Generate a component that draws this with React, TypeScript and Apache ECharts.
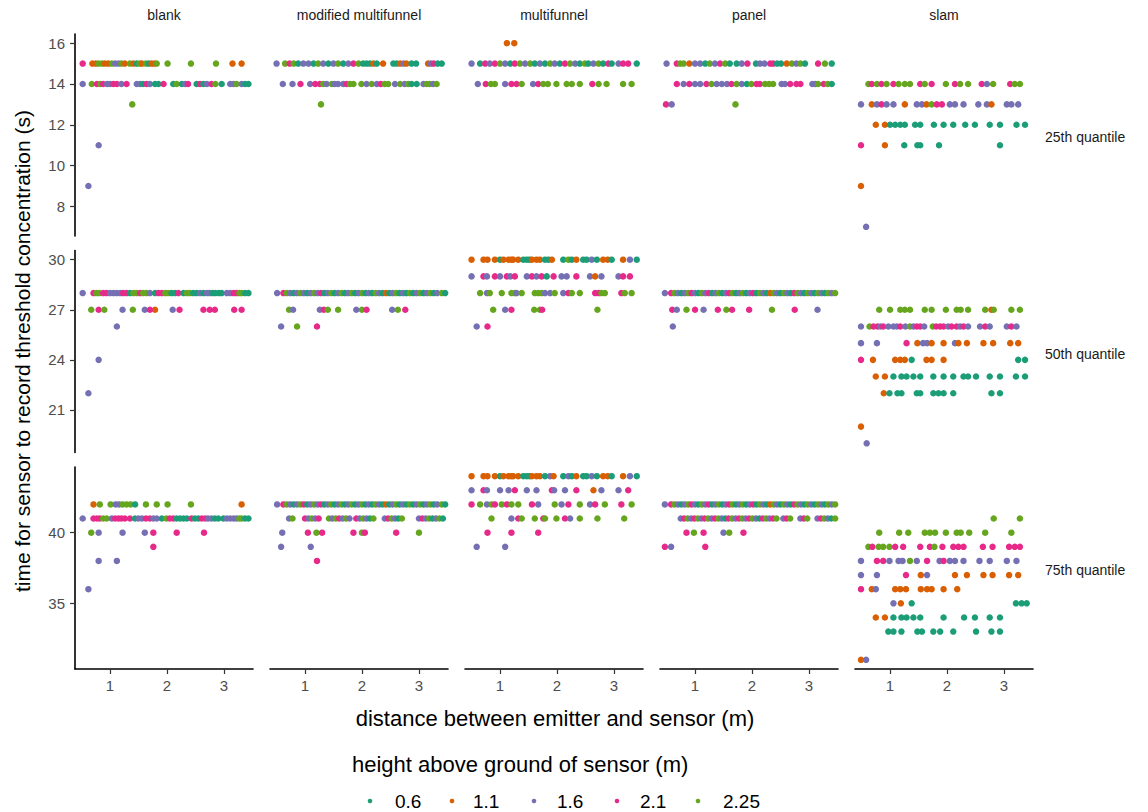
import React, { useEffect, useRef } from 'react';
import * as echarts from 'echarts';

const heights = ['0.6', '1.1', '1.6', '2.1', '2.25'];
const colors = ['#1B9E77', '#D95F02', '#7570B3', '#E7298A', '#66A61E'];
const emitters = ['blank', 'modified multifunnel', 'multifunnel', 'panel', 'slam'];
const quantiles = ['25th quantile', '50th quantile', '75th quantile'];
const xTicks = [1, 2, 3];
const yTicks = [[8, 10, 12, 14, 16], [21, 24, 27, 30], [35, 40]];
const yRanges = [[6.55, 16.45], [18.45, 30.55], [30.35, 44.65]];
const xRange = [0.385, 3.51];

// [distance (m), time (s), height index]
const blankQ25 = [
  [0.52,15,3],[0.69,15,1],[0.75,15,1],[0.80,15,4],[0.86,15,4],[0.91,15,1],[0.97,15,1],[1.03,15,4],[1.09,15,2],[1.15,15,2],[1.20,15,4],[1.26,15,1],[1.35,15,4],[1.41,15,1],[1.47,15,0],[1.52,15,4],[1.56,15,1],[1.63,15,4],[1.68,15,0],[1.73,15,1],[1.78,15,1],[1.82,15,4],[2.01,15,4],[2.42,15,4],[2.86,15,4],[3.15,15,1],[3.31,15,1],
  [0.52,14,2],[0.68,14,4],[0.77,14,3],[0.83,14,4],[0.88,14,3],[0.95,14,2],[1.00,14,2],[1.06,14,3],[1.12,14,3],[1.20,14,2],[1.29,14,3],[1.47,14,2],[1.53,14,2],[1.58,14,0],[1.64,14,3],[1.70,14,2],[1.79,14,0],[1.85,14,0],[1.94,14,3],[2.11,14,0],[2.17,14,4],[2.26,14,0],[2.32,14,2],[2.37,14,3],[2.52,14,0],[2.58,14,3],[2.64,14,0],[2.70,14,2],[2.78,14,3],[2.85,14,4],[2.96,14,0],[3.11,14,2],[3.17,14,2],[3.22,14,4],[3.31,14,2],[3.37,14,0],[3.43,14,0],
  [1.39,13,4],[0.80,11,2],[0.62,9,2]
];
const modQ25 = [
  [0.50,15,2],[0.65,15,4],[0.73,15,3],[0.80,15,4],[0.88,15,0],[0.97,15,2],[1.06,15,2],[1.15,15,0],[1.23,15,4],[1.32,15,2],[1.41,15,0],[1.50,15,2],[1.58,15,4],[1.67,15,0],[1.76,15,2],[1.85,15,3],[1.94,15,4],[2.02,15,0],[2.08,15,0],[2.14,15,0],[2.20,15,1],[2.26,15,0],[2.37,15,1],[2.55,15,0],[2.61,15,0],[2.67,15,1],[2.73,15,2],[2.78,15,1],[2.87,15,0],[2.95,15,0],[3.16,15,1],[3.21,15,2],[3.26,15,3],[3.33,15,0],[3.40,15,0],
  [0.61,14,2],[0.78,14,2],[0.92,14,3],[1.09,14,2],[1.18,14,3],[1.26,14,3],[1.32,14,4],[1.38,14,2],[1.47,14,4],[1.52,14,2],[1.58,14,2],[1.67,14,2],[1.73,14,3],[1.79,14,4],[1.85,14,4],[1.99,14,4],[2.08,14,2],[2.17,14,4],[2.26,14,2],[2.33,14,3],[2.40,14,4],[2.46,14,4],[2.58,14,2],[2.67,14,4],[2.75,14,2],[2.81,14,4],[2.87,14,0],[2.96,14,0],[3.08,14,2],[3.14,14,4],[3.19,14,4],[3.25,14,2],[3.31,14,4],
  [1.28,13,4]
];
const multiQ25 = [
  [1.12,16,1],[1.25,16,1],
  [0.50,15,2],[0.65,15,0],[0.74,15,3],[0.82,15,2],[0.91,15,3],[1.00,15,4],[1.09,15,2],[1.18,15,0],[1.26,15,3],[1.35,15,4],[1.44,15,2],[1.53,15,4],[1.61,15,0],[1.70,15,2],[1.79,15,0],[1.88,15,4],[1.96,15,2],[2.05,15,0],[2.14,15,3],[2.23,15,4],[2.32,15,2],[2.40,15,0],[2.49,15,4],[2.55,15,0],[2.64,15,2],[2.73,15,4],[2.81,15,0],[2.90,15,3],[2.96,15,0],[3.08,15,2],[3.16,15,3],[3.25,15,3],[3.40,15,0],
  [0.61,14,2],[0.75,14,3],[0.84,14,4],[0.91,14,4],[1.09,14,2],[1.20,14,3],[1.29,14,3],[1.38,14,4],[1.58,14,2],[1.67,14,3],[1.76,14,4],[1.84,14,4],[1.99,14,4],[2.17,14,4],[2.26,14,4],[2.40,14,4],[2.62,14,3],[2.73,14,4],[2.87,14,4],[3.16,14,4],[3.31,14,4]
];
const panelQ25 = [
  [0.50,15,2],[0.68,15,3],[0.74,15,4],[0.80,15,4],[0.90,15,1],[1.00,15,2],[1.09,15,2],[1.18,15,0],[1.26,15,4],[1.35,15,2],[1.44,15,3],[1.53,15,4],[1.61,15,0],[1.73,15,0],[1.82,15,2],[1.92,15,3],[2.07,15,0],[2.14,15,2],[2.22,15,2],[2.32,15,3],[2.37,15,3],[2.44,15,0],[2.51,15,0],[2.61,15,1],[2.70,15,4],[2.78,15,2],[2.85,15,4],[2.93,15,0],[3.16,15,3],[3.28,15,4],[3.40,15,0],
  [0.68,14,3],[0.80,14,2],[0.90,14,3],[1.00,14,2],[1.09,14,2],[1.20,14,3],[1.29,14,4],[1.38,14,2],[1.47,14,2],[1.56,14,2],[1.64,14,3],[1.73,14,4],[1.82,14,2],[1.91,14,0],[1.99,14,4],[2.08,14,3],[2.14,14,3],[2.23,14,4],[2.30,14,4],[2.37,14,4],[2.52,14,2],[2.58,14,2],[2.67,14,3],[2.78,14,3],[2.85,14,3],[3.06,14,2],[3.11,14,2],[3.16,14,4],[3.26,14,3],[3.33,14,4],[3.40,14,0],
  [0.49,13,3],[0.59,13,2],[1.71,13,4]
];
const slamQ25 = [
  [0.62,14,4],[0.68,14,3],[0.77,14,4],[0.85,14,3],[0.94,14,4],[1.06,14,3],[1.15,14,4],[1.26,14,4],[1.35,14,4],[1.53,14,3],[1.61,14,4],[1.73,14,3],[1.98,14,4],[2.14,14,3],[2.23,14,4],[2.37,14,4],[2.61,14,3],[2.70,14,2],[2.81,14,4],[3.11,14,3],[3.19,14,4],[3.28,14,4],
  [0.49,13,2],[0.68,13,1],[0.77,13,2],[0.85,13,3],[0.94,13,2],[1.06,13,2],[1.26,13,1],[1.47,13,2],[1.56,13,2],[1.64,13,1],[1.73,13,4],[1.82,13,3],[1.91,13,3],[2.05,13,2],[2.14,13,2],[2.29,13,2],[2.55,13,2],[2.70,13,2],[2.78,13,1],[3.05,13,2],[3.13,13,2],[3.25,13,2],
  [0.75,12,1],[0.91,12,1],[1.00,12,0],[1.09,12,0],[1.18,12,0],[1.26,12,0],[1.44,12,0],[1.53,12,0],[1.77,12,0],[1.94,12,0],[2.11,12,0],[2.32,12,0],[2.49,12,0],[2.75,12,0],[2.93,12,0],[3.22,12,0],[3.37,12,0],
  [0.49,11,3],[0.91,11,1],[1.25,11,0],[1.48,11,0],[1.53,11,0],[1.86,11,0],[2.93,11,0],
  [0.49,9,1],[0.58,7,2]
];

const blankQ50 = [
  [0.52,28,2],[0.71,28,3],[0.76,28,4],[0.81,28,4],[0.88,28,3],[0.94,28,3],[1.00,28,2],[1.06,28,2],[1.12,28,2],[1.18,28,2],[1.23,28,3],[1.29,28,3],[1.35,28,0],[1.41,28,4],[1.47,28,4],[1.53,28,3],[1.58,28,4],[1.64,28,4],[1.70,28,2],[1.79,28,0],[1.85,28,3],[1.91,28,3],[1.97,28,4],[2.02,28,4],[2.08,28,0],[2.14,28,0],[2.20,28,3],[2.29,28,0],[2.35,28,4],[2.40,28,4],[2.46,28,0],[2.52,28,0],[2.58,28,2],[2.64,28,0],[2.70,28,2],[2.75,28,2],[2.80,28,0],[2.85,28,0],[2.91,28,0],[2.96,28,0],[3.05,28,2],[3.11,28,2],[3.17,28,3],[3.22,28,3],[3.27,28,4],[3.31,28,4],[3.37,28,0],[3.43,28,0],
  [0.67,27,4],[0.80,27,3],[0.90,27,4],[1.22,27,2],[1.40,27,4],[1.61,27,2],[1.79,27,1],[1.70,27,3],[2.10,27,2],[2.22,27,3],[2.64,27,3],[2.75,27,3],[2.84,27,3],[3.18,27,3],[3.31,27,3],
  [1.12,26,2],[0.80,24,2],[0.62,22,2]
];
const modQ50 = [
  [0.51,28,2],[0.62,28,3],[0.68,28,4],[0.74,28,2],[0.80,28,0],[0.86,28,2],[0.92,28,4],[0.98,28,2],[1.04,28,0],[1.10,28,2],[1.16,28,4],[1.22,28,2],[1.28,28,3],[1.34,28,0],[1.40,28,2],[1.46,28,4],[1.52,28,0],[1.58,28,2],[1.64,28,4],[1.70,28,0],[1.76,28,2],[1.82,28,4],[1.88,28,0],[1.94,28,2],[2.00,28,4],[2.06,28,0],[2.12,28,2],[2.18,28,0],[2.24,28,4],[2.30,28,2],[2.36,28,0],[2.42,28,1],[2.48,28,0],[2.54,28,2],[2.60,28,4],[2.66,28,0],[2.72,28,2],[2.78,28,0],[2.84,28,4],[2.90,28,0],[2.96,28,2],[3.02,28,4],[3.08,28,0],[3.14,28,2],[3.20,28,4],[3.26,28,0],[3.32,28,2],[3.40,28,4],[3.46,28,0],
  [0.72,27,4],[0.79,27,2],[1.26,27,2],[1.33,27,3],[1.40,27,4],[1.58,27,4],[1.90,27,2],[2.00,27,4],[2.08,27,3],[2.53,27,2],[2.63,27,4],[2.76,27,3],
  [0.58,26,2],[0.86,26,4],[1.21,26,3]
];
const multiQ50 = [
  [0.50,30,1],[0.71,30,1],[0.78,30,1],[0.91,30,1],[1.00,30,0],[1.06,30,1],[1.15,30,1],[1.20,30,1],[1.23,30,1],[1.32,30,1],[1.41,30,0],[1.47,30,0],[1.52,30,0],[1.56,30,1],[1.64,30,1],[1.70,30,1],[1.79,30,0],[1.85,30,0],[1.91,30,1],[2.11,30,0],[2.20,30,4],[2.26,30,0],[2.34,30,1],[2.46,30,0],[2.52,30,0],[2.61,30,2],[2.70,30,0],[2.81,30,1],[2.89,30,1],[2.96,30,0],[3.16,30,1],[3.28,30,2],[3.40,30,0],
  [0.50,29,2],[0.71,29,3],[0.77,29,2],[0.91,29,3],[1.00,29,2],[1.12,29,3],[1.18,29,2],[1.26,29,3],[1.47,29,2],[1.56,29,3],[1.64,29,2],[1.73,29,3],[1.82,29,0],[1.94,29,3],[2.08,29,2],[2.17,29,2],[2.34,29,3],[2.58,29,2],[2.67,29,1],[2.78,29,2],[3.08,29,2],[3.16,29,3],[3.28,29,3],
  [0.65,28,4],[0.77,28,2],[0.82,28,4],[1.03,28,4],[1.20,28,4],[1.26,28,4],[1.29,28,2],[1.38,28,4],[1.61,28,4],[1.67,28,4],[1.73,28,4],[1.79,28,2],[1.88,28,2],[1.96,28,4],[2.11,28,2],[2.20,28,3],[2.26,28,4],[2.40,28,4],[2.67,28,3],[2.73,28,3],[2.78,28,4],[2.84,28,4],[3.13,28,3],[3.19,28,4],[3.31,28,4],
  [0.88,27,4],[1.09,27,2],[1.20,27,3],[1.60,27,4],[1.70,27,4],[1.74,27,3],[2.71,27,4],
  [0.59,26,2],[0.78,26,3]
];
const panelQ50 = [
  [0.47,28,2],[0.58,28,3],[0.64,28,4],[0.70,28,2],[0.76,28,0],[0.82,28,2],[0.88,28,4],[0.94,28,3],[1.00,28,2],[1.06,28,0],[1.12,28,4],[1.18,28,2],[1.24,28,3],[1.30,28,0],[1.36,28,2],[1.42,28,4],[1.48,28,0],[1.54,28,2],[1.60,28,3],[1.66,28,4],[1.72,28,0],[1.78,28,2],[1.84,28,4],[1.90,28,0],[1.96,28,2],[2.02,28,3],[2.08,28,0],[2.14,28,4],[2.20,28,2],[2.26,28,0],[2.32,28,1],[2.38,28,4],[2.44,28,2],[2.50,28,0],[2.56,28,4],[2.62,28,2],[2.68,28,0],[2.74,28,3],[2.80,28,4],[2.86,28,2],[2.92,28,0],[2.98,28,4],[3.04,28,2],[3.10,28,0],[3.16,28,4],[3.22,28,2],[3.28,28,0],[3.34,28,4],[3.40,28,2],[3.46,28,4],
  [0.60,27,3],[0.68,27,2],[0.85,27,4],[1.00,27,3],[1.15,27,2],[1.40,27,3],[1.55,27,4],[1.65,27,3],[1.95,27,3],[2.35,27,4],[2.75,27,3],[3.15,27,2],
  [0.61,26,2]
];
const slamQ50 = [
  [0.81,27,4],[1.00,27,4],[1.18,27,4],[1.26,27,4],[1.35,27,4],[1.61,27,4],[1.73,27,4],[1.98,27,4],[2.17,27,4],[2.24,27,4],[2.37,27,4],[2.67,27,4],[2.78,27,1],[2.82,27,4],[3.13,27,4],[3.28,27,4],
  [0.49,26,2],[0.64,26,4],[0.71,26,3],[0.78,26,3],[0.83,26,2],[0.88,26,3],[0.97,26,2],[1.06,26,2],[1.12,26,2],[1.18,26,3],[1.27,26,2],[1.35,26,4],[1.41,26,2],[1.47,26,3],[1.53,26,3],[1.60,26,2],[1.75,26,4],[1.81,26,3],[1.88,26,3],[1.94,26,3],[2.02,26,2],[2.08,26,3],[2.17,26,3],[2.23,26,2],[2.29,26,3],[2.37,26,2],[2.58,26,2],[2.67,26,3],[2.75,26,2],[3.05,26,2],[3.13,26,3],[3.22,26,2],
  [0.49,25,2],[0.77,25,2],[1.29,25,3],[1.48,25,1],[1.58,25,2],[1.65,25,2],[1.73,25,1],[1.94,25,1],[2.14,25,2],[2.20,25,1],[2.35,25,1],[2.64,25,1],[2.81,25,1],[3.11,25,1],[3.25,25,1],
  [0.49,24,3],[0.70,24,1],[1.09,24,1],[1.18,24,1],[1.26,24,1],[1.38,24,0],[1.64,24,1],[1.73,24,1],[1.94,24,1],[3.25,24,0],[3.37,24,0],
  [0.75,23,1],[0.91,23,1],[1.06,23,0],[1.20,23,0],[1.29,23,0],[1.41,23,0],[1.53,23,0],[1.76,23,0],[1.94,23,0],[2.11,23,0],[2.29,23,0],[2.37,23,0],[2.51,23,0],[2.75,23,0],[2.93,23,0],[3.21,23,0],[3.37,23,0],
  [0.89,22,1],[0.99,22,0],[1.13,22,0],[1.20,22,0],[1.47,22,0],[1.53,22,0],[1.76,22,0],[1.85,22,0],[1.94,22,0],[2.11,22,0],[2.78,22,0],[2.93,22,0],
  [0.49,20,1],[0.59,19,2]
];

const blankQ75 = [
  [0.71,42,1],[0.82,42,4],[1.01,42,4],[1.10,42,2],[1.16,42,2],[1.22,42,4],[1.29,42,4],[1.36,42,4],[1.44,42,0],[1.63,42,4],[1.82,42,4],[2.01,42,4],[2.42,42,4],[3.31,42,1],
  [0.52,41,2],[0.71,41,3],[0.77,41,3],[0.82,41,3],[0.88,41,4],[0.94,41,4],[1.03,41,2],[1.09,41,3],[1.15,41,3],[1.20,41,3],[1.26,41,3],[1.35,41,3],[1.44,41,0],[1.50,41,2],[1.56,41,2],[1.63,41,3],[1.70,41,3],[1.76,41,2],[1.82,41,2],[1.91,41,0],[1.99,41,4],[2.05,41,3],[2.11,41,3],[2.17,41,0],[2.23,41,0],[2.29,41,0],[2.35,41,0],[2.43,41,3],[2.49,41,0],[2.55,41,0],[2.61,41,3],[2.67,41,3],[2.72,41,2],[2.78,41,2],[2.84,41,0],[2.90,41,0],[2.99,41,0],[3.05,41,2],[3.11,41,2],[3.17,41,2],[3.22,41,2],[3.27,41,4],[3.31,41,4],[3.37,41,0],[3.43,41,0],
  [0.67,40,4],[0.80,40,2],[1.22,40,2],[1.61,40,2],[1.76,40,3],[2.17,40,3],[2.65,40,3],
  [1.76,39,3],[0.80,38,2],[1.12,38,2],[0.62,36,2]
];
const modQ75 = [
  [0.51,42,2],[0.62,42,3],[0.68,42,4],[0.74,42,2],[0.80,42,0],[0.86,42,2],[0.92,42,4],[0.98,42,3],[1.04,42,0],[1.10,42,2],[1.16,42,4],[1.22,42,2],[1.28,42,3],[1.34,42,0],[1.40,42,2],[1.46,42,4],[1.52,42,0],[1.58,42,2],[1.64,42,4],[1.70,42,0],[1.76,42,2],[1.82,42,4],[1.88,42,0],[1.94,42,2],[2.00,42,4],[2.06,42,0],[2.12,42,2],[2.18,42,0],[2.24,42,4],[2.30,42,2],[2.36,42,0],[2.42,42,1],[2.48,42,0],[2.54,42,2],[2.60,42,4],[2.66,42,0],[2.72,42,2],[2.78,42,0],[2.84,42,4],[2.90,42,0],[2.96,42,2],[3.02,42,4],[3.08,42,0],[3.14,42,2],[3.20,42,4],[3.26,42,0],[3.32,42,2],[3.40,42,4],[3.46,42,0],
  [0.72,41,2],[0.78,41,4],[1.00,41,3],[1.06,41,2],[1.12,41,4],[1.18,41,2],[1.24,41,3],[1.42,41,4],[1.48,41,2],[1.54,41,4],[1.60,41,3],[1.66,41,2],[1.72,41,4],[1.78,41,2],[1.90,41,3],[1.96,41,2],[2.02,41,4],[2.08,41,2],[2.14,41,0],[2.20,41,4],[2.40,41,2],[2.46,41,3],[2.52,41,4],[2.58,41,2],[2.64,41,0],[2.70,41,4],[3.00,41,2],[3.06,41,3],[3.12,41,2],[3.18,41,4],[3.24,41,0],[3.30,41,2],[3.36,41,4],[3.42,41,0],
  [0.60,40,2],[1.05,40,3],[1.20,40,4],[1.30,40,3],[1.85,40,3],[2.00,40,4],[2.05,40,3],[2.60,40,3],[3.00,40,4],
  [0.58,39,2],[1.10,39,2],[1.21,38,3]
];
const multiQ75 = [
  [0.50,44,1],[0.71,44,1],[0.78,44,1],[0.91,44,1],[1.00,44,0],[1.06,44,1],[1.15,44,1],[1.20,44,1],[1.23,44,1],[1.32,44,1],[1.41,44,0],[1.47,44,0],[1.52,44,0],[1.56,44,1],[1.64,44,1],[1.70,44,1],[1.79,44,0],[1.88,44,2],[1.94,44,1],[2.11,44,0],[2.20,44,2],[2.26,44,0],[2.34,44,1],[2.46,44,0],[2.52,44,0],[2.61,44,2],[2.70,44,0],[2.81,44,1],[2.89,44,1],[2.96,44,0],[3.16,44,1],[3.28,44,2],[3.40,44,0],
  [0.50,43,2],[0.71,43,3],[0.77,43,2],[1.00,43,2],[1.15,43,2],[1.26,43,3],[1.47,43,2],[1.64,43,2],[1.91,43,3],[1.95,43,2],[2.14,43,2],[2.34,43,3],[2.64,43,1],[2.78,43,2],[3.08,43,2],[3.25,43,3],
  [0.50,42,3],[0.65,42,4],[0.77,42,2],[0.85,42,4],[0.91,42,3],[1.03,42,4],[1.12,42,3],[1.20,42,4],[1.32,42,4],[1.56,42,3],[1.67,42,2],[1.96,42,4],[2.08,42,2],[2.20,42,3],[2.40,42,4],[2.58,42,2],[2.67,42,3],[2.84,42,4],[3.13,42,3],[3.31,42,4],
  [0.85,41,4],[1.20,41,2],[1.32,41,3],[1.38,41,4],[1.61,41,4],[1.76,41,3],[1.79,41,4],[1.99,41,4],[2.14,41,3],[2.23,41,2],[2.40,41,4],[2.71,41,4],[3.18,41,4],
  [0.78,40,3],[1.20,40,3],[1.67,40,3],
  [0.59,39,2],[1.09,39,2]
];
const panelQ75 = [
  [0.47,42,2],[0.58,42,3],[0.64,42,4],[0.70,42,2],[0.76,42,0],[0.82,42,2],[0.88,42,4],[0.94,42,3],[1.00,42,2],[1.06,42,0],[1.12,42,4],[1.18,42,2],[1.24,42,3],[1.30,42,0],[1.36,42,2],[1.42,42,4],[1.48,42,0],[1.54,42,2],[1.60,42,3],[1.66,42,4],[1.72,42,0],[1.78,42,2],[1.84,42,4],[1.90,42,0],[1.96,42,2],[2.02,42,3],[2.08,42,0],[2.14,42,4],[2.20,42,2],[2.26,42,0],[2.32,42,1],[2.38,42,4],[2.44,42,2],[2.50,42,0],[2.56,42,4],[2.62,42,2],[2.68,42,0],[2.74,42,3],[2.80,42,4],[2.86,42,2],[2.92,42,0],[2.98,42,4],[3.04,42,2],[3.10,42,0],[3.16,42,4],[3.22,42,2],[3.28,42,0],[3.34,42,4],[3.40,42,2],[3.46,42,4],
  [0.75,41,2],[0.81,41,3],[0.87,41,4],[0.93,41,2],[0.99,41,3],[1.05,41,4],[1.11,41,2],[1.17,41,3],[1.23,41,4],[1.29,41,2],[1.35,41,3],[1.41,41,4],[1.47,41,2],[1.53,41,0],[1.59,41,3],[1.65,41,4],[1.71,41,2],[1.77,41,3],[1.83,41,4],[1.89,41,2],[1.95,41,3],[2.01,41,4],[2.07,41,2],[2.13,41,0],[2.19,41,3],[2.25,41,4],[2.31,41,2],[2.37,41,3],[2.43,41,4],[2.55,41,2],[2.61,41,3],[2.67,41,4],[2.85,41,2],[2.91,41,3],[2.97,41,4],[3.15,41,2],[3.21,41,3],[3.27,41,4],[3.33,41,2],[3.39,41,0],[3.46,41,4],
  [0.85,40,3],[0.98,40,4],[1.15,40,3],[1.50,40,2],[1.60,40,4],[1.85,40,3],
  [0.47,39,3],[0.58,39,2],[1.18,39,3]
];
const slamQ75 = [
  [2.82,41,4],[3.28,41,4],
  [0.81,40,4],[1.16,40,4],[1.32,40,4],[1.61,40,4],[1.70,40,4],[1.79,40,4],[1.98,40,4],[2.17,40,4],[2.24,40,4],[2.39,40,4],[2.67,40,4],[3.13,40,4],
  [0.62,39,4],[0.69,39,3],[0.80,39,4],[0.88,39,4],[0.99,39,4],[1.09,39,3],[1.23,39,3],[1.53,39,3],[1.70,39,3],[1.78,39,4],[1.92,39,3],[2.11,39,3],[2.20,39,3],[2.29,39,3],[2.63,39,3],[2.80,39,3],[3.09,39,3],[3.19,39,3],[3.28,39,3],
  [0.49,38,2],[0.77,38,3],[0.88,38,3],[0.99,38,2],[1.15,38,2],[1.22,38,2],[1.35,38,4],[1.47,38,2],[1.65,38,3],[1.87,38,2],[1.94,38,3],[2.05,38,2],[2.14,38,2],[2.29,38,2],[2.57,38,2],[2.75,38,2],[3.05,38,2],[3.22,38,2],
  [0.49,37,2],[0.77,37,2],[1.28,37,3],[1.54,37,1],[1.65,37,2],[2.14,37,1],[2.35,37,1],[2.64,37,1],[2.80,37,1],[3.09,37,1],[3.25,37,1],
  [0.49,36,3],[0.68,36,1],[0.75,36,2],[1.09,36,1],[1.18,36,1],[1.28,36,1],[1.54,36,1],[1.65,36,1],[1.73,36,1],[1.94,36,1],[2.18,36,1],
  [1.06,35,2],[1.19,35,1],[1.38,35,0],[3.21,35,0],[3.31,35,0],[3.40,35,0],
  [0.75,34,1],[0.91,34,1],[1.06,34,0],[1.20,34,0],[1.29,34,0],[1.41,34,0],[1.53,34,0],[1.94,34,0],[2.30,34,0],[2.49,34,0],[2.75,34,0],[2.93,34,0],
  [0.97,33,0],[1.06,33,0],[1.20,33,0],[1.48,33,0],[1.56,33,0],[1.76,33,0],[1.88,33,0],[2.11,33,0],[2.51,33,0],[2.78,33,0],[2.93,33,0],
  [0.49,31,1],[0.58,31,2]
];

const facetData = [
  [blankQ25, modQ25, multiQ25, panelQ25, slamQ25],
  [blankQ50, modQ50, multiQ50, panelQ50, slamQ50],
  [blankQ75, modQ75, multiQ75, panelQ75, slamQ75],
];

const FONT = '"Liberation Sans", Arial, sans-serif';
const colLeft = [75, 270, 465, 660, 855];
const panelW = 178;
const rowTop = [34, 250.5, 467];
const panelH = 202;

export default function App() {
  const ref = useRef<HTMLDivElement>(null);
  useEffect(() => {
    if (!ref.current) return;
    const chart = echarts.init(ref.current, undefined, { renderer: 'svg' });
    const grids: any[] = [];
    const xAxes: any[] = [];
    const yAxes: any[] = [];
    const series: any[] = [];
    for (let r = 0; r < 3; r++) {
      for (let c = 0; c < 5; c++) {
        const i = r * 5 + c;
        grids.push({ left: colLeft[c], top: rowTop[r], width: panelW, height: panelH, containLabel: false });
        const showX = r === 2;
        const showY = c === 0;
        xAxes.push({
          type: 'value', gridIndex: i, min: xRange[0], max: xRange[1], show: showX,
          splitLine: { show: false },
          axisLine: { show: true, onZero: false, lineStyle: { color: '#000', width: 1.6 } },
          axisTick: { show: true, customValues: xTicks, length: 5, lineStyle: { color: '#333', width: 1.2 } },
          axisLabel: { show: true, customValues: xTicks, color: '#4d4d4d', fontSize: 15, fontFamily: FONT, margin: 9 },
        });
        yAxes.push({
          type: 'value', gridIndex: i, min: yRanges[r][0], max: yRanges[r][1], show: showY,
          splitLine: { show: false },
          axisLine: { show: true, onZero: false, lineStyle: { color: '#000', width: 1.6 } },
          axisTick: { show: true, customValues: yTicks[r], length: 5, lineStyle: { color: '#333', width: 1.2 } },
          axisLabel: { show: true, customValues: yTicks[r], color: '#4d4d4d', fontSize: 15, fontFamily: FONT, margin: 10 },
        });
        series.push({
          type: 'scatter', xAxisIndex: i, yAxisIndex: i, symbolSize: 6.5, silent: true,
          data: facetData[r][c].map(([x, y, h]) => ({ value: [x, y], name: heights[h], itemStyle: { color: colors[h], opacity: 1 } })),
        });
      }
    }
    const graphic: any[] = [];
    emitters.forEach((e, c) => {
      graphic.push({ type: 'text', x: colLeft[c] + panelW / 2, y: 15, style: { text: e, fontSize: 14, fontFamily: FONT, fill: '#1a1a1a', align: 'center', verticalAlign: 'middle', textAlign: 'center', textVerticalAlign: 'middle' } });
    });
    quantiles.forEach((q, r) => {
      graphic.push({ type: 'text', x: 1045, y: rowTop[r] + panelH / 2 + 2, style: { text: q, fontSize: 14, fontFamily: FONT, fill: '#1a1a1a', align: 'left', verticalAlign: 'middle', textAlign: 'left', textVerticalAlign: 'middle' } });
    });
    graphic.push({ type: 'text', x: 22, y: 351, rotation: Math.PI / 2, style: { text: 'time for sensor to record threshold concentration (s)', fontSize: 21, fontFamily: FONT, fill: '#000', align: 'center', verticalAlign: 'middle', textAlign: 'center', textVerticalAlign: 'middle' } });
    graphic.push({ type: 'text', x: 555, y: 718, style: { text: 'distance between emitter and sensor (m)', fontSize: 22, fontFamily: FONT, fill: '#000', align: 'center', verticalAlign: 'middle', textAlign: 'center', textVerticalAlign: 'middle' } });
    graphic.push({ type: 'text', x: 352, y: 764, style: { text: 'height above ground of sensor (m)', fontSize: 22, fontFamily: FONT, fill: '#000', align: 'left', verticalAlign: 'middle', textAlign: 'left', textVerticalAlign: 'middle' } });
    const dotX = [370, 452, 534, 617, 698];
    const labX = [395, 473, 557, 640, 723];
    heights.forEach((h, k) => {
      graphic.push({ type: 'circle', shape: { cx: dotX[k], cy: 801, r: 2.3 }, style: { fill: colors[k] } });
      graphic.push({ type: 'text', x: labX[k], y: 801, style: { text: h, fontSize: 19, fontFamily: FONT, fill: '#000', align: 'left', verticalAlign: 'middle', textAlign: 'left', textVerticalAlign: 'middle' } });
    });
    chart.setOption({
      animation: false,
      backgroundColor: '#fff',
      textStyle: { fontFamily: FONT },
      grid: grids, xAxis: xAxes, yAxis: yAxes, series, graphic,
    });
    return () => chart.dispose();
  }, []);
  return <div ref={ref} style={{ position: 'absolute', left: 0, top: 0, width: 1148, height: 812 }} />;
}
